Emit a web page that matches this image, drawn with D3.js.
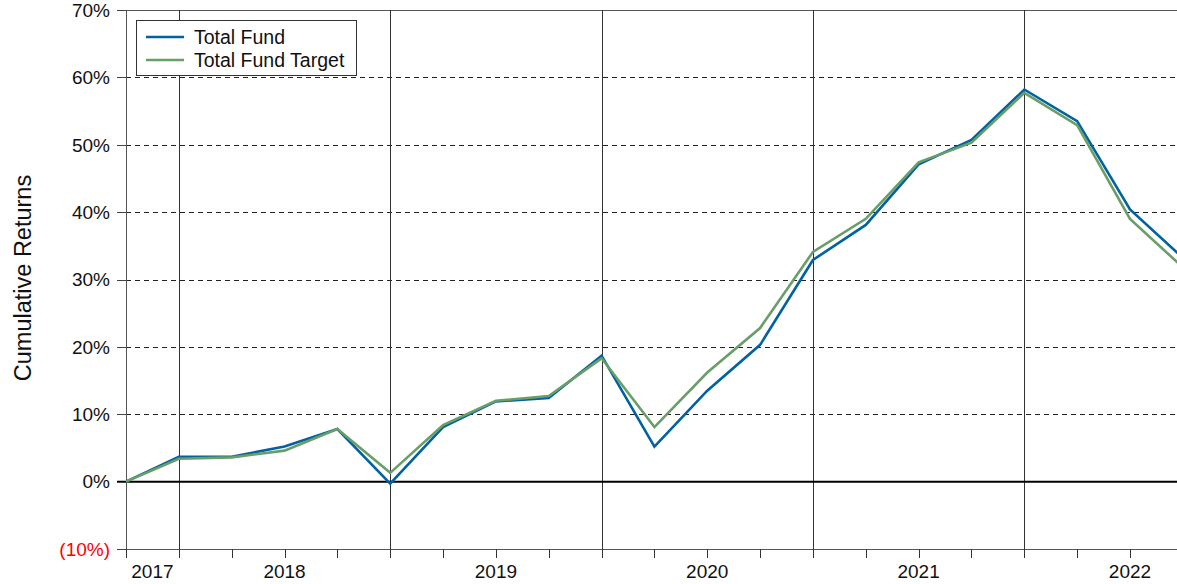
<!DOCTYPE html>
<html>
<head>
<meta charset="utf-8">
<script src="https://cdn.jsdelivr.net/npm/d3@7"></script>
<style>
  html, body { margin: 0; padding: 0; background: #fff; }
  svg { display: block; font-family: "Liberation Sans", Arial, sans-serif; }
</style>
</head>
<body>
<svg id="chart" width="1177" height="584"></svg>
<script>
// ---- Data ----
const quarters = ["2017-09","2017-12","2018-03","2018-06","2018-09","2018-12","2019-03","2019-06","2019-09","2019-12",
                  "2020-03","2020-06","2020-09","2020-12","2021-03","2021-06","2021-09","2021-12","2022-03","2022-06","2022-09"];
const totalFund =       [0, 3.7, 3.7, 5.2, 7.8, -0.3, 8.1, 11.9, 12.4, 18.7, 5.2, 13.5, 20.3, 32.9, 38.1, 47.1, 50.7, 58.2, 53.5, 40.4, 33.2];
const totalFundTarget = [0, 3.4, 3.6, 4.6, 7.8, 1.3, 8.4, 12.0, 12.7, 18.3, 8.1, 16.2, 22.8, 34.1, 39.0, 47.4, 50.3, 57.7, 52.9, 39.0, 31.8];
const yTicks = [-10, 0, 10, 20, 30, 40, 50, 60, 70];
const yearLabels = ["2017", "2018", "2019", "2020", "2021", "2022"];
const yearStartIdx = [0, 1, 5, 9, 13, 17];   // quarter index where each year segment starts
const yearEndIdx   = [1, 5, 9, 13, 17, 21];  // quarter index where each year segment ends
const seriesNames = ["Total Fund", "Total Fund Target"];
const seriesColors = ["#0062a0", "#6a9e68"];

(function () {
// ---- Layout ----
const svg = d3.select("#chart");
const mLeft = 126, mRight = 1177, mTop = 10, mBottom = 549;
const step = (1130 - 126) / 19;

const x = d3.scaleLinear().domain([0, 1]).range([mLeft, mLeft + step]);
const y = d3.scaleLinear().domain([-10, 70]).range([mBottom, mTop]);
const px = v => Math.round(v) + 0.5;

// clip
svg.append("defs").append("clipPath").attr("id", "clip")
  .append("rect").attr("x", mLeft).attr("y", 0).attr("width", mRight - mLeft).attr("height", 584);

// horizontal gridlines (dashed)
svg.append("g").selectAll("line")
  .data(yTicks.filter(t => t > 0 && t < 70))
  .join("line")
  .attr("x1", mLeft).attr("x2", mRight)
  .attr("y1", d => px(y(d))).attr("y2", d => px(y(d)))
  .attr("stroke", "#222").attr("stroke-width", 1).attr("stroke-dasharray", "5,4");

// top border at 70%
svg.append("line").attr("x1", mLeft).attr("x2", mRight)
  .attr("y1", px(y(70))).attr("y2", px(y(70)))
  .attr("stroke", "#555").attr("stroke-width", 1);

// vertical year boundary lines
const boundaryIdx = [1, 5, 9, 13, 17];
svg.append("g").selectAll("line").data(boundaryIdx).join("line")
  .attr("x1", d => px(x(d))).attr("x2", d => px(x(d)))
  .attr("y1", y(70)).attr("y2", mBottom + 9)
  .attr("stroke", "#333").attr("stroke-width", 1);

// left axis line
svg.append("line").attr("x1", px(mLeft)).attr("x2", px(mLeft))
  .attr("y1", y(70)).attr("y2", mBottom + 9)
  .attr("stroke", "#555").attr("stroke-width", 1);

// bottom axis line
svg.append("line").attr("x1", mLeft).attr("x2", mRight)
  .attr("y1", px(mBottom)).attr("y2", px(mBottom))
  .attr("stroke", "#555").attr("stroke-width", 1);

// zero line
svg.append("line").attr("x1", mLeft - 9).attr("x2", mRight)
  .attr("y1", y(0)).attr("y2", y(0))
  .attr("stroke", "#000").attr("stroke-width", 2);

// y ticks + labels
const yAxisG = svg.append("g");
yAxisG.selectAll("line").data(yTicks).join("line")
  .attr("x1", mLeft - 9).attr("x2", mLeft)
  .attr("y1", d => px(y(d))).attr("y2", d => px(y(d)))
  .attr("stroke", "#444").attr("stroke-width", 1);
yAxisG.selectAll("text").data(yTicks).join("text")
  .attr("x", 110).attr("y", d => y(d))
  .attr("dy", "0.36em")
  .attr("text-anchor", "end")
  .attr("font-size", "19px")
  .attr("fill", d => d < 0 ? "#ff0000" : "#111")
  .text(d => d < 0 ? `(${-d}%)` : `${d}%`);

// x ticks (quarters)
svg.append("g").selectAll("line").data(quarters.map((q, i) => i)).join("line")
  .attr("x1", d => px(x(d))).attr("x2", d => px(x(d)))
  .attr("y1", mBottom).attr("y2", mBottom + 9)
  .attr("stroke", "#333").attr("stroke-width", 1);

// year labels centered in each year segment
svg.append("g").selectAll("text").data(yearLabels).join("text")
  .attr("x", (d, i) => x((yearStartIdx[i] + yearEndIdx[i]) / 2))
  .attr("y", 578)
  .attr("text-anchor", "middle")
  .attr("font-size", "19px")
  .attr("fill", "#111")
  .text(d => d);

// y axis title
svg.append("text")
  .attr("transform", "translate(31,278) rotate(-90)")
  .attr("text-anchor", "middle")
  .attr("font-size", "23.5px")
  .attr("fill", "#111")
  .text("Cumulative Returns");

// lines
const line = d3.line().x((d, i) => x(i)).y(d => y(d));
const linesG = svg.append("g").attr("clip-path", "url(#clip)");
[totalFund, totalFundTarget].forEach((s, k) => {
  linesG.append("path").datum(s)
    .attr("d", line)
    .attr("fill", "none")
    .attr("stroke", seriesColors[k])
    .attr("stroke-width", 2.6)
    .attr("stroke-linejoin", "miter");
});

// legend
const lg = svg.append("g");
lg.append("rect").attr("x", 136.5).attr("y", 20.5).attr("width", 220).attr("height", 55)
  .attr("fill", "#fff").attr("stroke", "#333").attr("stroke-width", 1);
seriesNames.forEach((n, k) => {
  const ly = 37 + k * 23;
  lg.append("line").attr("x1", 146).attr("x2", 184).attr("y1", ly).attr("y2", ly)
    .attr("stroke", seriesColors[k]).attr("stroke-width", 2.6);
  lg.append("text").attr("x", 194).attr("y", ly).attr("dy", "0.36em")
    .attr("font-size", "19.5px").attr("fill", "#111").text(n);
});
})();
</script>
</body>
</html>
